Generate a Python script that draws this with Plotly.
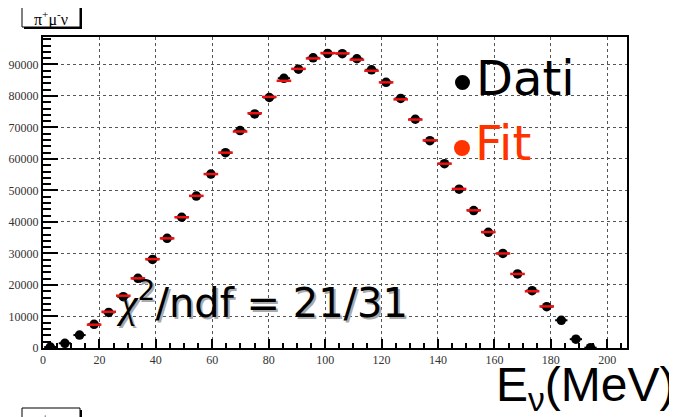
import plotly.graph_objects as go

# ---------------- data ----------------
energy_mev = [2.59, 7.76, 12.94, 18.11, 23.29, 28.46, 33.64, 38.81, 43.99, 49.16,
              54.34, 59.51, 64.69, 69.86, 75.04, 80.21, 85.39, 90.56, 95.74, 100.91,
              106.09, 111.26, 116.44, 121.61, 126.79, 131.96, 137.14, 142.31, 147.49, 152.66,
              157.84, 163.01, 168.19, 173.36, 178.54, 183.71, 188.89, 194.06]
dati_counts = [300, 1500, 4100, 7500, 11300, 16300, 22100, 28100, 34800, 41500,
               48200, 55200, 62000, 69000, 74300, 79500, 85600, 88500, 92100, 93500,
               93400, 91800, 88300, 84300, 79200, 72600, 65800, 58500, 50400, 43600,
               36700, 30000, 23500, 18200, 13100, 8800, 2800, 100]
fit_energy = energy_mev[3:35]
fit_counts = [7400, 11500, 16600, 22100, 28200, 34800, 41500, 48300, 55200, 62000,
              68700, 74500, 79700, 84800, 88600, 91900, 93600, 93500, 91500, 88000,
              84300, 78900, 72500, 65900, 58500, 50500, 43700, 36800, 30000, 23500,
              18000, 13200]
bin_width = 5.175
x_ticks = [0, 20, 40, 60, 80, 100, 120, 140, 160, 180, 200]
y_ticks = [0, 10000, 20000, 30000, 40000, 50000, 60000, 70000, 80000, 90000]

# ---------------- geometry (screen pixels) ----------------
W, H = 677, 417
OFF = 8  # default body margin of the page
L, R, T, B = 43, 627, 37, 348


def px(x):
    return (x - L) / (R - L)


def py(y):
    return (B - y) / (B - T)


fig = go.Figure()

fig.add_trace(go.Scatter(
    x=energy_mev, y=dati_counts, mode="markers",
    marker=dict(color="black", size=9.5),
    error_x=dict(type="constant", value=bin_width * 0.42, color="black", thickness=2, width=0),
    showlegend=False, hoverinfo="x+y"))

fig.add_trace(go.Scatter(
    x=fit_energy, y=fit_counts, mode="markers",
    marker=dict(color="red", size=1, opacity=0),
    error_x=dict(type="constant", value=bin_width / 2, color="#ee1111", thickness=2.5, width=0),
    showlegend=False, hoverinfo="x+y"))

tickfont = dict(family="Liberation Serif", size=12, color="#333")
fig.update_xaxes(
    range=[0, 207], tickvals=x_ticks, ticks="inside", ticklen=9, tickwidth=1.5,
    tickcolor="black", showline=True, mirror=True, linecolor="black", linewidth=2,
    showgrid=True, gridcolor="#555", griddash="dot", gridwidth=1, zeroline=False,
    tickfont=tickfont, automargin=False,
    minor=dict(dtick=5, tick0=0, ticks="inside", ticklen=5, tickwidth=1.5,
               tickcolor="black", showgrid=False))
fig.update_yaxes(
    range=[0, 98700], tickvals=y_ticks, tickformat="d", ticks="inside", ticklen=15, tickwidth=2,
    tickcolor="black", showline=True, mirror=True, linecolor="black", linewidth=2,
    showgrid=True, gridcolor="#555", griddash="dot", gridwidth=1, zeroline=False,
    tickfont=tickfont, automargin=False,
    minor=dict(dtick=2000, tick0=0, ticks="inside", ticklen=8, tickwidth=2,
               tickcolor="black", showgrid=False))

shapes = []
annotations = []

# legend-like bullets
shapes.append(dict(type="circle", xref="paper", yref="paper",
                   x0=px(455), x1=px(470), y0=py(90), y1=py(75),
                   fillcolor="black", line=dict(width=0)))
shapes.append(dict(type="circle", xref="paper", yref="paper",
                   x0=px(454), x1=px(470), y0=py(156), y1=py(140),
                   fillcolor="#ff3300", line=dict(width=0)))
annotations.append(dict(xref="paper", yref="paper", x=px(474), y=py(78),
                        xanchor="left", yanchor="middle", showarrow=False,
                        text="Dati", font=dict(family="DejaVu Sans", size=48, color="black")))
annotations.append(dict(xref="paper", yref="paper", x=px(473), y=py(143),
                        xanchor="left", yanchor="middle", showarrow=False,
                        text="Fit", font=dict(family="DejaVu Sans", size=48, color="#ff3300")))

# chi2 text with shadow
chi_text = ('<span style="font-family:Liberation Serif"><i>χ</i></span>'
            '<sup>2</sup>/ndf = 21/31')
for color, dx, dy in [("#aaaaaa", 2, -2), ("black", 0, 0)]:
    annotations.append(dict(xref="paper", yref="paper", x=px(114), y=py(300),
                            xanchor="left", yanchor="middle", showarrow=False,
                            xshift=dx, yshift=dy,
                            text=chi_text, font=dict(family="DejaVu Sans", size=40, color=color)))

# axis label
annotations.append(dict(xref="paper", yref="paper", x=px(677), y=py(388),
                        xanchor="right", yanchor="middle", showarrow=False,
                        text="E<sub>ν</sub>(MeV)",
                        font=dict(family="Liberation Sans", size=48, color="black")))

# title boxes (top and cut-off bottom)
for (y0, y1, ty) in [(4, 27, 18.5), (408, 432, 421)]:
    shapes.append(dict(type="rect", xref="paper", yref="paper",
                       x0=px(24), x1=px(82), y0=py(y1 + 2), y1=py(y0 + 2),
                       fillcolor="black", line=dict(width=0)))
    shapes.append(dict(type="rect", xref="paper", yref="paper",
                       x0=px(22), x1=px(80), y0=py(y1), y1=py(y0),
                       fillcolor="white", line=dict(color="black", width=1)))
    annotations.append(dict(xref="paper", yref="paper", x=px(51), y=py(ty),
                            xanchor="center", yanchor="middle", showarrow=False,
                            text="π<sup>+</sup>μ<sup>-</sup>ν",
                            font=dict(family="Liberation Serif", size=16, color="black")))

fig.update_layout(
    width=W - OFF, height=H - OFF,
    margin=dict(l=L - OFF, r=W - R, t=T - OFF, b=H - B, pad=0),
    paper_bgcolor="white", plot_bgcolor="white",
    shapes=shapes, annotations=annotations, showlegend=False)

fig.write_html("out.html")
